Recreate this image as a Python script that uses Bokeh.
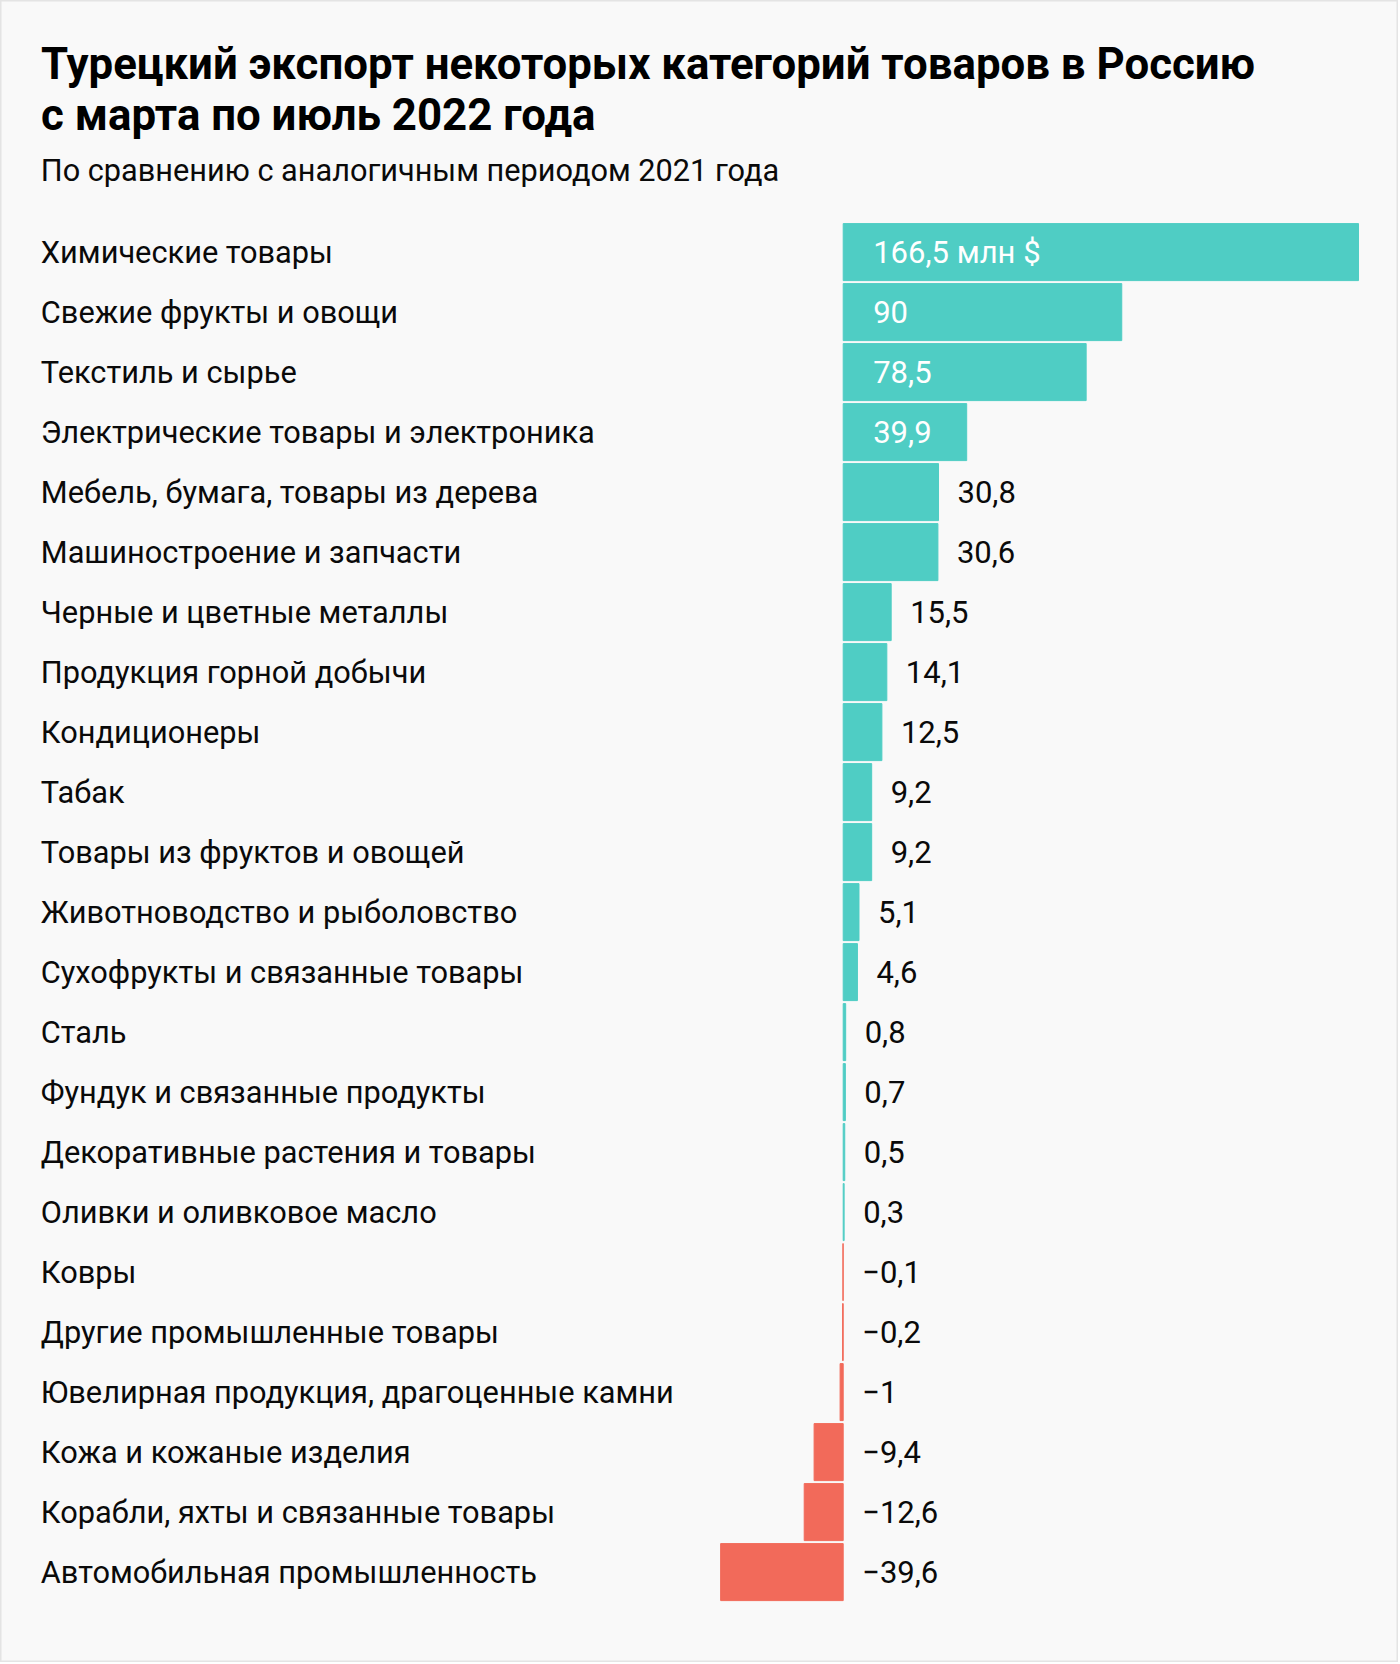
from bokeh.plotting import figure
from bokeh.models import ColumnDataSource, Range1d, Label
from bokeh.core.properties import value
from bokeh.embed import file_html
from bokeh.resources import INLINE

# ---- data ----
categories = [
    "Химические товары",
    "Свежие фрукты и овощи",
    "Текстиль и сырье",
    "Электрические товары и электроника",
    "Мебель, бумага, товары из дерева",
    "Машиностроение и запчасти",
    "Черные и цветные металлы",
    "Продукция горной добычи",
    "Кондиционеры",
    "Табак",
    "Товары из фруктов и овощей",
    "Животноводство и рыболовство",
    "Сухофрукты и связанные товары",
    "Сталь",
    "Фундук и связанные продукты",
    "Декоративные растения и товары",
    "Оливки и оливковое масло",
    "Ковры",
    "Другие промышленные товары",
    "Ювелирная продукция, драгоценные камни",
    "Кожа и кожаные изделия",
    "Корабли, яхты и связанные товары",
    "Автомобильная промышленность",
]
values = [166.5, 90, 78.5, 39.9, 30.8, 30.6, 15.5, 14.1, 12.5, 9.2, 9.2, 5.1, 4.6,
          0.8, 0.7, 0.5, 0.3, -0.1, -0.2, -1, -9.4, -12.6, -39.6]
unit_suffix = " млн $"
title_lines = ["Турецкий экспорт некоторых категорий товаров в Россию",
               "с марта по июль 2022 года"]
subtitle = "По сравнению с аналогичным периодом 2021 года"

# ---- styling / layout ----
W, H = 1398, 1662
PX_PER_UNIT = 3.095
ZERO_PX = 842.7
ROW = 60.0
TOP_PX = 251.6
POS_COLOR = "#4fcdc4"
NEG_COLOR = "#f26a5a"
BG = "#f9f9f9"
FONT = "Roboto"
INSIDE_MIN = 35

x_start = -ZERO_PX / PX_PER_UNIT
x_end = (W - ZERO_PX) / PX_PER_UNIT
y_top = -TOP_PX / ROW
y_bottom = (H - TOP_PX) / ROW


def ypx(p):
    return y_top + p / ROW


def xpx(p):
    return x_start + p / PX_PER_UNIT


def fmt(v):
    s = f"{abs(v):g}".replace(".", ",")
    return ("−" + s) if v < 0 else s


n = len(values)
idx = list(range(n))
colors = [POS_COLOR if v >= 0 else NEG_COLOR for v in values]
texts = [fmt(v) for v in values]
texts[0] = texts[0] + unit_suffix
inside = [v >= INSIDE_MIN for v in values]

bars = ColumnDataSource(dict(y=idx, v=values, color=colors))
cat_src = ColumnDataSource(dict(y=idx, name=categories, x=[xpx(40.3)] * n))
in_src = ColumnDataSource(dict(
    y=[i for i in idx if inside[i]],
    x=[0] * sum(inside),
    t=[texts[i] for i in idx if inside[i]]))
out_src = ColumnDataSource(dict(
    y=[i for i in idx if not inside[i]],
    x=[max(values[i], 0) for i in idx if not inside[i]],
    t=[texts[i] for i in idx if not inside[i]]))

p = figure(width=W, height=H, output_backend="svg", toolbar_location=None,
           x_range=Range1d(x_start, x_end), y_range=Range1d(y_bottom, y_top),
           x_axis_type=None, y_axis_type=None,
           min_border=0, min_border_left=0, min_border_right=0,
           min_border_top=0, min_border_bottom=0)
p.background_fill_color = BG
p.border_fill_color = BG
p.outline_line_color = "#e4e4e4"
p.outline_line_width = 2
p.grid.visible = False

p.hbar(y="y", left=0, right="v", height=0.95, source=bars,
       fill_color="color", line_color="color", line_width=1)

p.text(x="x", y="y", text="name", source=cat_src,
       text_font=value(FONT), text_font_size="30.75px", text_color="#0a0a0a",
       text_align="left", text_baseline="middle")
p.text(x="x", y="y", text="t", source=in_src, x_offset=30,
       text_font=value(FONT), text_font_size="31px", text_color="white",
       text_align="left", text_baseline="middle")
p.text(x="x", y="y", text="t", source=out_src, x_offset=19,
       text_font=value(FONT), text_font_size="31px", text_color="#0a0a0a",
       text_align="left", text_baseline="middle")

for line, mid in zip(title_lines, [63.8, 114.0]):
    p.add_layout(Label(x=xpx(40.5), y=ypx(mid), text=line,
                       text_font=FONT, text_font_style="bold",
                       text_font_size="43.8px", text_color="#000000",
                       text_baseline="middle"))
p.add_layout(Label(x=xpx(40.3), y=ypx(170.0), text=subtitle,
                   text_font=FONT, text_font_size="30.7px", text_color="#0a0a0a",
                   text_baseline="middle"))

open("out.html", "w").write(file_html(p, INLINE))
